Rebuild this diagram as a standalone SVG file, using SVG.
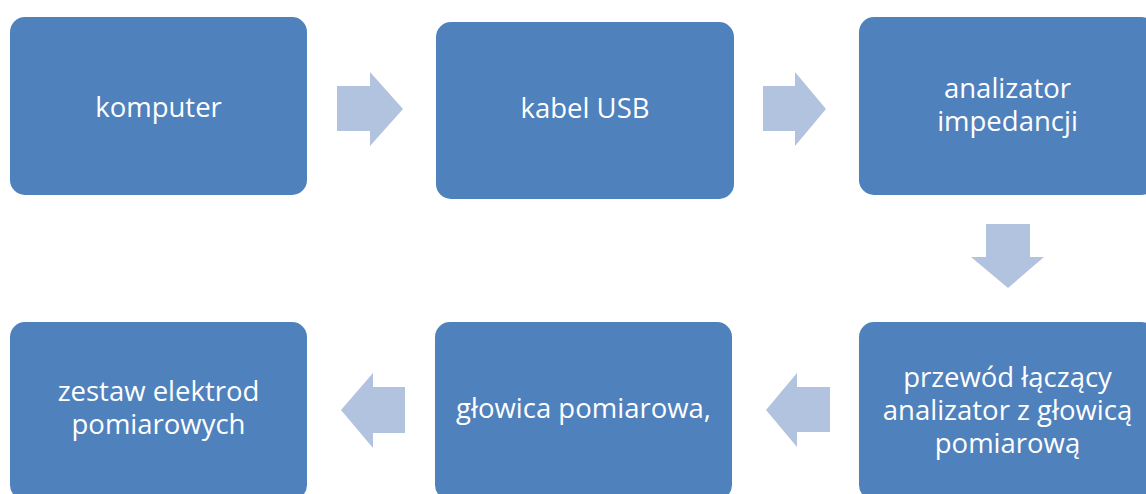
<svg xmlns="http://www.w3.org/2000/svg" width="1146" height="494" viewBox="0 0 1146 494">
<style>
.box{fill:#4F81BD;}
.arr{fill:#B2C3DF;}
.t{font-family:"Open Sans","Liberation Sans",sans-serif;font-size:27.5px;fill:#FFFFFF;text-anchor:middle;}
</style>
<rect width="1146" height="494" fill="#FFFFFF"/>
<g id="connectors">
<polygon class="arr" points="337,86 370,86 370,72 403,109 370,146 370,131 337,131"/>
<polygon class="arr" points="763,86 795,86 795,72 826,109 795,146 795,131 763,131"/>
<polygon class="arr" points="986,224 1030,224 1030,257 1044,257 1008,288 971,257 986,257"/>
<polygon class="arr" points="830,387 797,387 797,373 766,410 797,447 797,432 830,432"/>
<polygon class="arr" points="405,387 373,387 373,373 341,410 373,448 373,433 405,433"/>
</g>
<g id="komputer">
<rect class="box" x="10" y="17" width="297" height="178" rx="15"/>
<text class="t" x="158.5" y="117">komputer</text>
</g>
<g id="kabel-usb">
<rect class="box" x="436" y="22" width="298" height="177" rx="15"/>
<text class="t" x="585" y="118">kabel USB</text>
</g>
<g id="analizator">
<rect class="box" x="859" y="17" width="297" height="178" rx="15"/>
<text class="t" x="1007.5" y="97.5">analizator</text>
<text class="t" x="1007.5" y="130.5">impedancji</text>
</g>
<g id="przewod">
<rect class="box" x="859" y="322" width="297" height="178" rx="15"/>
<text class="t" x="1007.5" y="387">przewód łączący</text>
<text class="t" x="1007.5" y="420">analizator z głowicą</text>
<text class="t" x="1007.5" y="453">pomiarową</text>
</g>
<g id="glowica">
<rect class="box" x="435" y="322" width="297" height="178" rx="15"/>
<text class="t" x="583.5" y="418">głowica pomiarowa,</text>
</g>
<g id="zestaw">
<rect class="box" x="10" y="322" width="297" height="178" rx="15"/>
<text class="t" x="158.5" y="401">zestaw elektrod</text>
<text class="t" x="158.5" y="434">pomiarowych</text>
</g>
</svg>
